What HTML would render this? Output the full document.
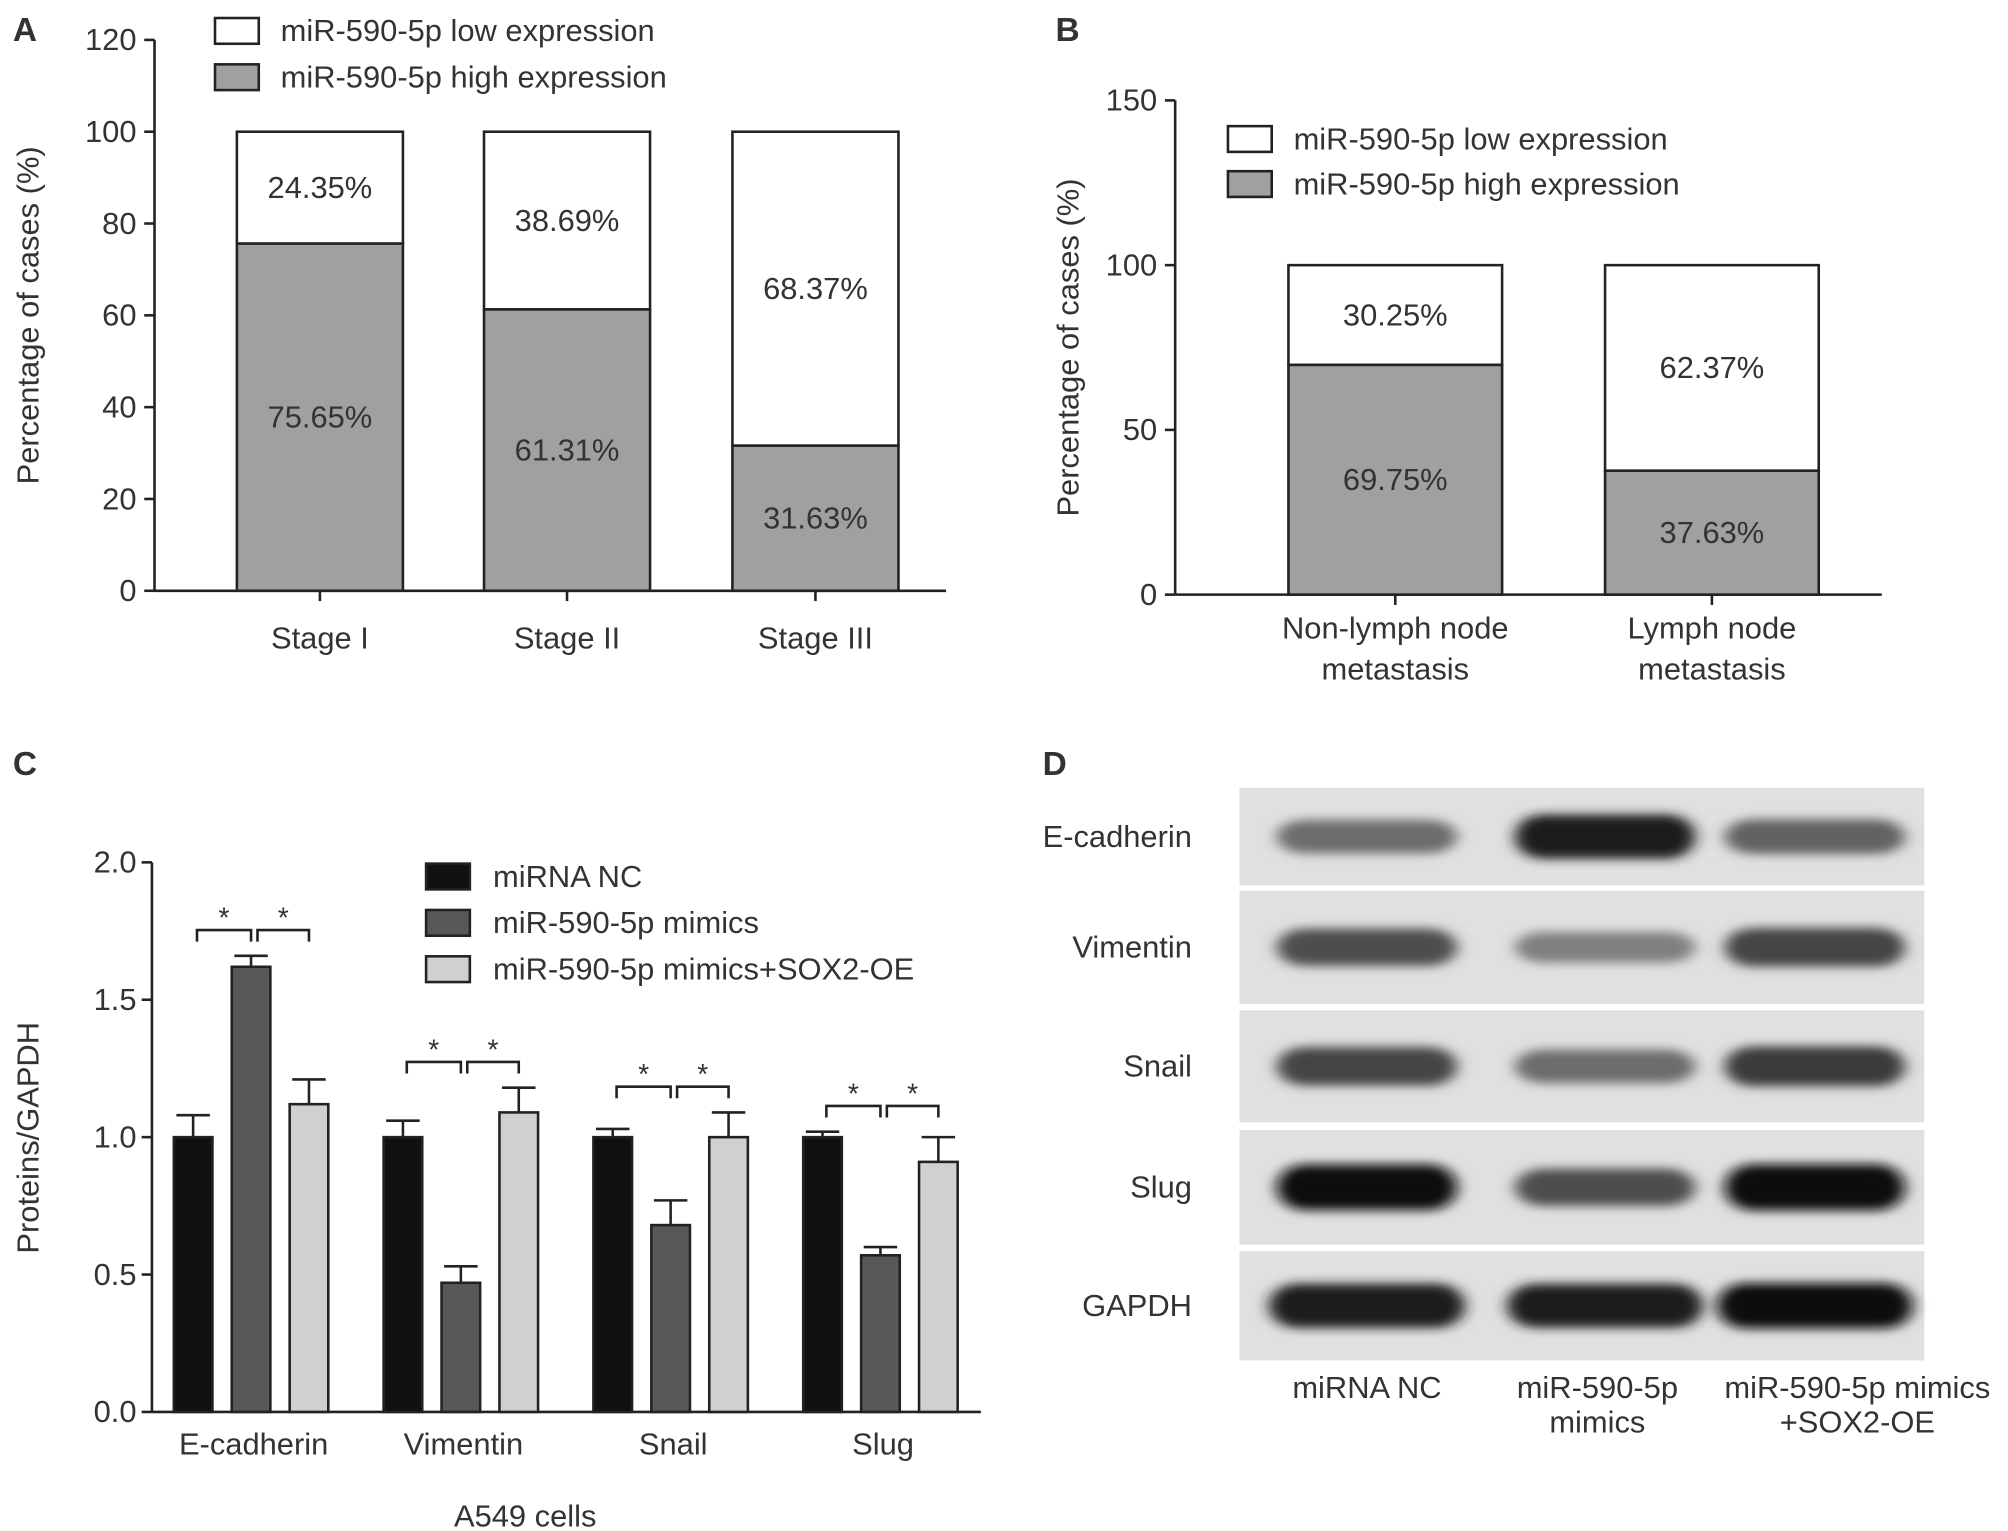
<!DOCTYPE html>
<html><head><meta charset="utf-8"><style>
html,body{margin:0;padding:0;background:#fff}
svg{display:block}
text{font-family:"Liberation Sans",Arial,sans-serif;fill:#333}
</style></head><body>
<svg id="fig" width="2008" height="1531" viewBox="0 0 1560 1189.5" xmlns="http://www.w3.org/2000/svg">
<defs>
<filter id="blur" x="-20%" y="-80%" width="140%" height="260%"><feGaussianBlur stdDeviation="6 4"/></filter>
</defs>
<g id="gA"></g>
<g id="gB"></g>
<g id="gC"></g>
<g id="gD"></g>
</svg>
<script>
// Panel A data
const stageCats = ["Stage I","Stage II","Stage III"];
const stageHigh = [75.65, 61.31, 31.63];
const stageLow = [24.35, 38.69, 68.37];
const aTicks = [0,20,40,60,80,100,120];
// Panel B data
const lymphCats = [["Non-lymph node","metastasis"],["Lymph node","metastasis"]];
const lymphHigh = [69.75, 37.63];
const lymphLow = [30.25, 62.37];
const bTicks = [0,50,100,150];
// Panel C data
const protCats = ["E-cadherin","Vimentin","Snail","Slug"];
const seriesNames = ["miRNA NC","miR-590-5p mimics","miR-590-5p mimics+SOX2-OE"];
const ncVals = [1.0, 1.0, 1.0, 1.0];
const mimVals = [1.62, 0.47, 0.68, 0.57];
const soxVals = [1.12, 1.09, 1.0, 0.91];
const ncErr = [0.08, 0.06, 0.03, 0.02];
const mimErr = [0.04, 0.06, 0.09, 0.03];
const soxErr = [0.09, 0.09, 0.09, 0.09];
const cTicks = [0,0.5,1.0,1.5,2.0];
// Panel D data (band darkness 0..1)
const blotRows = ["E-cadherin","Vimentin","Snail","Slug","GAPDH"];
const bandNC = [0.5, 0.65, 0.7, 0.98, 0.92];
const bandMim = [0.92, 0.4, 0.5, 0.65, 0.9];
const bandSox = [0.55, 0.7, 0.75, 1.0, 0.97];

const NS="http://www.w3.org/2000/svg";
function mk(parent,tag,attrs,txt){const e=document.createElementNS(NS,tag);for(const k in attrs)e.setAttribute(k,attrs[k]);if(txt!==undefined)e.textContent=txt;parent.appendChild(e);return e;}
const FS=24;

function stacked(g,opt){
  const {x0,y0,y1,max,ticks,cats,high,low,barX,barW,xEnd,letter,lx,ly,legX,legY,legGap,ylabX}=opt;
  const sy=v=>y0-(y0-y1)*v/max;
  let t=mk(g,'text',{x:lx,y:ly,'font-size':26,'font-weight':'bold',fill:'#111'},letter);
  
  
  let ax=mk(g,'line',{x1:x0,y1:sy(max),x2:x0,y2:y0,stroke:'#222','stroke-width':2});
  
  
  let xa=mk(g,'line',{x1:x0,y1:y0,x2:xEnd,y2:y0,stroke:'#222','stroke-width':2});
  
  
  ticks.forEach(v=>{
    mk(g,'line',{x1:x0-8,y1:sy(v),x2:x0,y2:sy(v),stroke:'#222','stroke-width':2});
    let tl=mk(g,'text',{x:x0-14,y:sy(v)+8,'text-anchor':'end','font-size':FS},String(v));
    
    
  });
  let yl=mk(g,'text',{x:ylabX,y:(y0+sy(max))/2,'text-anchor':'middle','font-size':FS,transform:`rotate(-90 ${ylabX} ${(y0+sy(max))/2})`},'Percentage of cases (%)');
  
  
  cats.forEach((c,i)=>{
    const bx=barX[i],cx=bx+barW/2;
    let hb=mk(g,'rect',{x:bx,y:sy(high[i]),width:barW,height:y0-sy(high[i]),fill:'#a0a0a0',stroke:'#222','stroke-width':2});
    
    
    let lb=mk(g,'rect',{x:bx,y:sy(high[i]+low[i]),width:barW,height:sy(high[i])-sy(high[i]+low[i]),fill:'#fff',stroke:'#222','stroke-width':2});
    
    
    let ht=mk(g,'text',{x:cx,y:(sy(high[i])+y0)/2+8,'text-anchor':'middle','font-size':FS},high[i].toFixed(2)+'%');
    
    
    let lt=mk(g,'text',{x:cx,y:(sy(high[i])+sy(high[i]+low[i]))/2+8,'text-anchor':'middle','font-size':FS},low[i].toFixed(2)+'%');
    
    
    mk(g,'line',{x1:cx,y1:y0,x2:cx,y2:y0+8,stroke:'#222','stroke-width':2});
    const lines=Array.isArray(c)?c:[c];
    lines.forEach((s,j)=>{
      let xl=mk(g,'text',{x:cx,y:y0+(Array.isArray(c)?34:45)+j*32,'text-anchor':'middle','font-size':FS},s);
      
      
    });
  });
  [['#fff','miR-590-5p low expression'],['#a0a0a0','miR-590-5p high expression']].forEach((l,i)=>{
    let r=mk(g,'rect',{x:legX,y:legY+i*legGap,width:34,height:20,fill:l[0],stroke:'#222','stroke-width':2});
    
    
    let lt=mk(g,'text',{x:legX+51,y:legY+i*legGap+18,'font-size':FS},l[1]);
    
    
  });
}
stacked(document.getElementById('gA'),{x0:120,y0:459,y1:31,max:120,ticks:aTicks,cats:stageCats,high:stageHigh,low:stageLow,barX:[184,376,569],barW:129,xEnd:735,letter:'A',lx:10,ly:32,legX:167,legY:14,legGap:36,ylabX:30});
stacked(document.getElementById('gB'),{x0:913,y0:462,y1:78,max:150,ticks:bTicks,cats:lymphCats,high:lymphHigh,low:lymphLow,barX:[1001,1247],barW:166,xEnd:1462,letter:'B',lx:820,ly:32,legX:954,legY:98,legGap:35,ylabX:838});

// Panel C
(function(){
  const g=document.getElementById('gC');
  const x0=118,y0=1097,y1=670,max=2.0;
  const sy=v=>y0-(y0-y1)*v/max;
  let t=mk(g,'text',{x:10,y:602,'font-size':26,'font-weight':'bold',fill:'#111'},'C');
  
  
  let ax=mk(g,'line',{x1:x0,y1:sy(max),x2:x0,y2:y0,stroke:'#222','stroke-width':2});
  
  
  let xa=mk(g,'line',{x1:x0,y1:y0,x2:762,y2:y0,stroke:'#222','stroke-width':2});
  
  
  cTicks.forEach(v=>{
    mk(g,'line',{x1:x0-8,y1:sy(v),x2:x0,y2:sy(v),stroke:'#222','stroke-width':2});
    let tl=mk(g,'text',{x:x0-12,y:sy(v)+8,'text-anchor':'end','font-size':FS},v.toFixed(1));
    
    
  });
  let yl=mk(g,'text',{x:30,y:884,'text-anchor':'middle','font-size':FS,transform:'rotate(-90 30 884)'},'Proteins/GAPDH');
  
  
  const vals=[ncVals,mimVals,soxVals],errs=[ncErr,mimErr,soxErr],cols=['#111','#585858','#d0d0d0'];
  const groupStart=i=>135+i*163, bw=30, step=45;
  protCats.forEach((c,i)=>{
    const gx=groupStart(i);
    vals.forEach((arr,s)=>{
      const bx=gx+s*step,cx=bx+bw/2,top=sy(arr[i]),et=sy(arr[i]+errs[s][i]);
      mk(g,'line',{x1:cx,y1:et,x2:cx,y2:top,stroke:'#222','stroke-width':2});
      mk(g,'line',{x1:cx-13,y1:et,x2:cx+13,y2:et,stroke:'#222','stroke-width':2});
      let b=mk(g,'rect',{x:bx,y:top,width:bw,height:y0-top,fill:cols[s],stroke:'#222','stroke-width':2});
      
      
    });
    const peak=Math.max(...vals.map((a,s)=>a[i]+errs[s][i]));
    const by=sy(peak)-20;
    [[gx+18,gx+60],[gx+65,gx+105]].forEach(p=>{
      let br=mk(g,'path',{d:`M${p[0]} ${by+9}V${by}H${p[1]}V${by+9}`,fill:'none',stroke:'#222','stroke-width':2});
      
      
      let st=mk(g,'text',{x:(p[0]+p[1])/2,y:by-2,'text-anchor':'middle','font-size':22},'*');
      
      
    });
    let xl=mk(g,'text',{x:gx+62,y:1130,'text-anchor':'middle','font-size':FS},c);
    
    
  });
  let xt=mk(g,'text',{x:408,y:1186,'text-anchor':'middle','font-size':FS},'A549 cells');
  
  
  seriesNames.forEach((n,s)=>{
    let r=mk(g,'rect',{x:331,y:671+s*36,width:34,height:20,fill:cols[s],stroke:'#222','stroke-width':2});
    
    
    let lt=mk(g,'text',{x:383,y:689+s*36,'font-size':FS},n);
    
    
  });
})();

// Panel D
(function(){
  const g=document.getElementById('gD');
  let t=mk(g,'text',{x:810,y:602,'font-size':26,'font-weight':'bold',fill:'#111'},'D');
  
  
  const rowsY=[[612,688],[692,780],[785,872],[878,967],[972,1057]];
  const colCx=[1062,1247,1410];
  const bands=[bandNC,bandMim,bandSox];
  rowsY.forEach((r,i)=>{
    let bg=mk(g,'rect',{x:963,y:r[0],width:532,height:r[1]-r[0],fill:'#e0e0e0'});
    
    
    const cy=(r[0]+r[1])/2;
    bands.forEach((arr,j)=>{
      const d=arr[i],c=Math.round(205-195*d);
      let e=mk(g,'rect',{x:colCx[j]-(i==4?76:70),y:cy-(8+10*d),width:(i==4?152:140),height:2*(8+10*d),rx:22,fill:`rgb(${c},${c},${c})`,filter:'url(#blur)'});
      
      
    });
    let lt=mk(g,'text',{x:926,y:cy+8,'text-anchor':'end','font-size':FS},blotRows[i]);
    
    
  });
  [[1062,['miRNA NC']],[1241,['miR-590-5p','mimics']],[1443,['miR-590-5p mimics','+SOX2-OE']]].forEach(c=>{
    c[1].forEach((s,k)=>{
      let lt=mk(g,'text',{x:c[0],y:1086+k*27,'text-anchor':'middle','font-size':FS},s);
      
      
    });
  });
})();
</script>
</body></html>
